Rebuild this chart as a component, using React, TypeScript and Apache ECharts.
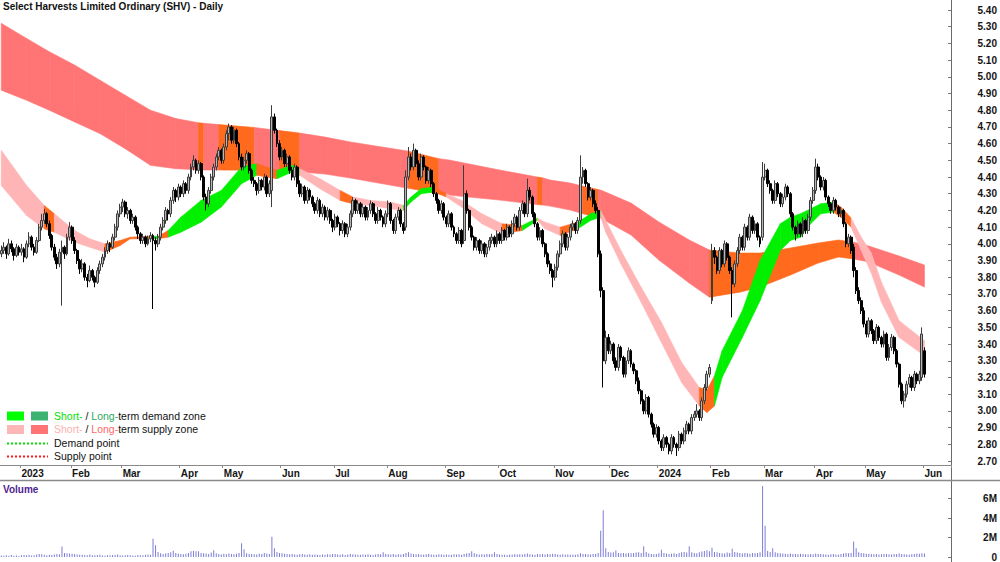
import { useEffect, useRef } from 'react';
import * as echarts from 'echarts';

const FONT = '"Liberation Sans", Arial, Helvetica, sans-serif';

// ---- categories (trading days) ----
const FIRST_DAY = '2022-12-19';
const LAST_DAY = '2024-06-03';
const HOLIDAYS = ['2022-12-26', '2022-12-27', '2023-01-02', '2023-01-26', '2023-04-07', '2023-04-10', '2023-04-25', '2023-06-12', '2023-12-25', '2023-12-26', '2024-01-01', '2024-01-26', '2024-03-29', '2024-04-01', '2024-04-25'];
const TRAILING_EMPTY_SLOTS = 10;
const MONTH_NAMES = ['Jan', 'Feb', 'Mar', 'Apr', 'May', 'Jun', 'Jul', 'Aug', 'Sep', 'Oct', 'Nov', 'Dec'];

// ---- daily prices, cents: [open, high, low, close] ----
const priceOHLC: number[][] = [
[394,399,392,396],[396,401,394,398],[398,399,391,394],[394,403,393,400],[400,402,395,397],[397,398,390,393],[393,400,392,398],[398,399,393,395],[395,400,393,397],[397,398,389,392],
[392,402,391,400],[400,407,398,404],[404,405,396,398],[398,400,393,395],[395,404,394,402],[402,412,401,410],[410,418,408,414],[414,421,412,418],[418,419,410,412],[412,414,403,405],
[405,406,396,398],[398,400,390,392],[392,394,385,388],[388,397,386,395],[395,402,363,398],[398,399,391,394],[394,406,393,404],[404,413,402,410],[410,411,400,402],[402,404,394,396],
[396,397,388,390],[390,391,382,385],[385,391,383,388],[388,389,378,380],[380,382,374,378],[378,387,377,384],[384,385,378,380],[380,381,374,377],[377,386,376,384],[384,390,382,388],
[388,394,386,392],[392,398,390,396],[396,402,394,400],[400,401,395,398],[398,406,397,404],[404,412,402,410],[410,420,408,418],[418,424,416,422],[422,427,419,425],[425,426,416,418],
[418,422,415,420],[420,421,412,414],[414,418,412,416],[416,417,408,410],[410,411,403,406],[406,407,400,402],[402,406,400,404],[404,405,398,400],[400,405,399,403],[403,407,401,405],
[405,406,361,402],[402,404,396,400],[400,406,398,404],[404,412,402,410],[410,416,408,414],[414,422,412,420],[420,421,414,418],[418,428,416,426],[426,434,424,432],[432,433,425,428],
[428,436,426,434],[434,435,428,430],[430,438,428,436],[436,437,430,432],[432,442,430,440],[440,448,438,446],[446,453,444,450],[450,451,442,444],[444,450,442,448],[448,449,438,440],
[440,441,426,428],[428,430,420,424],[424,434,422,432],[432,442,430,440],[440,448,438,446],[446,454,444,452],[452,458,450,456],[456,457,448,450],[450,460,448,458],[458,468,456,466],
[466,472,462,470],[470,471,460,462],[462,470,460,468],[468,469,458,460],[460,461,450,452],[452,454,444,446],[446,452,444,450],[450,456,448,454],[454,455,442,444],[444,445,436,438],
[438,440,434,436],[436,437,429,432],[432,440,430,438],[438,439,432,434],[434,442,432,440],[440,441,428,430],[430,438,428,436],[432,483,422,476],[476,478,466,468],[468,469,458,460],
[460,462,450,452],[452,458,450,456],[456,457,446,448],[448,454,446,452],[452,453,442,444],[444,446,438,440],[440,448,438,446],[446,447,434,436],[436,438,428,430],[430,436,428,434],
[434,435,424,426],[426,434,424,432],[432,433,426,428],[428,429,422,424],[424,425,418,420],[420,428,418,426],[426,427,416,418],[418,424,416,422],[422,423,414,416],[416,422,414,420],
[420,421,412,414],[414,415,407,410],[410,418,408,416],[416,417,410,412],[412,413,405,408],[408,414,406,412],[412,413,404,406],[406,412,404,410],[410,420,408,418],[418,428,416,426],
[426,427,418,420],[420,426,418,424],[424,425,416,418],[418,424,416,422],[422,423,414,416],[416,422,414,420],[420,426,418,424],[424,425,416,418],[418,419,412,414],[414,422,412,420],
[420,421,414,416],[416,417,410,412],[412,420,410,418],[418,426,416,424],[424,425,412,414],[414,415,406,408],[408,418,406,416],[416,422,414,420],[420,421,410,412],[412,413,406,408],
[410,444,408,440],[440,458,438,452],[452,454,444,446],[446,460,444,456],[456,457,446,448],[448,450,438,440],[440,454,438,452],[452,453,444,446],[446,447,436,438],[438,446,436,444],
[444,445,434,436],[436,437,428,430],[430,431,424,426],[426,427,418,420],[420,426,418,424],[424,425,414,416],[416,417,410,412],[412,420,410,418],[418,419,408,410],[410,411,404,406],
[406,407,400,402],[402,410,400,408],[408,409,398,400],[402,447,400,430],[430,432,418,420],[420,421,408,410],[410,411,402,404],[404,405,396,398],[398,404,396,402],[402,403,394,396],
[396,402,394,400],[400,401,392,394],[394,400,392,398],[398,404,396,402],[402,406,400,404],[404,405,398,400],[400,408,398,406],[406,407,400,402],[402,410,400,408],[408,409,402,404],
[404,412,402,410],[410,411,404,406],[406,414,404,412],[412,418,410,416],[416,417,408,410],[410,422,408,420],[420,426,418,424],[424,425,416,418],[418,439,416,432],[432,434,426,428],
[428,429,416,418],[418,419,410,412],[412,413,402,404],[404,410,402,408],[408,409,398,400],[400,401,392,394],[394,395,386,388],[388,390,382,384],[384,385,374,380],[380,388,378,386],
[386,396,384,394],[394,402,392,400],[400,408,398,406],[406,407,396,398],[398,406,396,404],[404,412,402,410],[410,414,408,412],[412,413,406,408],[408,416,406,414],[414,453,412,440],
[440,446,436,444],[444,445,434,436],[436,437,426,428],[428,434,426,432],[432,433,422,424],[424,426,418,420],[420,422,392,394],[394,396,368,372],[372,374,314,330],[330,348,328,344],
[344,346,334,336],[336,342,334,340],[340,341,328,330],[330,332,324,326],[326,340,324,338],[338,339,330,332],[332,333,320,322],[322,332,320,330],[330,338,328,336],[336,337,326,328],
[328,329,322,324],[324,325,316,318],[318,320,310,312],[312,313,304,306],[306,307,298,300],[300,310,298,308],[308,309,296,298],[298,299,290,292],[292,293,284,286],[286,292,284,290],
[290,291,280,282],[282,283,276,278],[278,286,276,284],[284,285,278,280],[280,281,274,276],[276,286,274,284],[284,285,278,280],[280,281,273,278],[278,288,276,286],[286,287,280,282],
[282,290,280,288],[288,294,286,292],[292,293,286,288],[288,298,286,296],[296,300,294,298],[298,304,296,300],[300,301,294,296],[296,308,294,306],[306,316,304,314],[314,324,312,322],
[322,328,320,326],[366,400,364,396],[396,398,388,392],[392,393,382,384],[384,398,382,396],[396,397,386,388],[388,402,386,400],[400,401,390,392],[392,393,382,384],[384,386,356,376],
[376,390,374,388],[388,398,386,396],[396,406,394,404],[404,405,396,398],[398,412,396,410],[410,411,402,404],[404,418,402,416],[416,417,406,408],[408,414,406,412],[412,413,402,404],
[404,405,398,400],[404,449,402,440],[440,448,438,444],[444,445,434,436],[436,438,430,432],[432,433,424,426],[426,438,424,436],[436,437,428,430],[430,431,422,424],[424,430,422,428],
[428,436,426,434],[434,435,428,430],[430,431,416,418],[418,419,408,410],[410,411,402,406],[406,414,404,412],[412,413,404,406],[406,416,404,414],[414,415,406,408],[408,418,406,416],
[416,428,414,426],[426,434,424,432],[432,451,430,446],[446,448,438,440],[440,441,432,434],[434,440,432,438],[438,439,426,428],[428,429,422,424],[424,425,418,420],[420,428,418,426],
[426,427,420,422],[422,423,416,418],[418,422,416,420],[420,421,410,412],[412,413,398,400],[400,406,398,404],[404,405,394,396],[398,400,380,384],[384,386,370,372],[372,374,364,366],
[366,368,358,360],[360,362,350,352],[352,354,344,346],[346,356,344,354],[354,355,346,348],[348,349,340,342],[342,352,340,350],[350,351,342,344],[344,345,338,340],[340,348,338,346],
[346,347,330,332],[332,340,330,338],[338,346,336,344],[344,345,334,336],[336,337,326,328],[328,329,314,316],[316,317,304,306],[306,312,302,310],[310,318,308,316],[316,322,314,320],
[320,321,312,314],[314,324,312,322],[322,323,316,318],[318,324,316,322],[320,350,318,346],[336,338,320,322]
];

// ---- daily volume, thousands of shares ----
const volumeK: number[] = [
150,120,180,140,200,130,160,110,170,210, 190,230,150,180,260,300,280,220,190,240,
200,260,310,280,1080,420,380,350,330,300, 260,240,220,200,190,260,180,170,210,230,
160,140,190,170,210,230,260,190,150,180, 200,170,160,140,210,180,190,230,250,220,
1870,1200,520,380,300,350,420,480,650,400, 360,320,290,330,420,600,640,580,600,420,
380,350,310,450,700,380,300,260,340,290, 360,300,280,330,420,1400,800,380,330,300,
280,260,330,300,420,360,300,2070,900,520, 420,380,340,300,280,320,260,240,280,300,
250,230,270,220,260,240,210,250,230,280, 260,300,320,250,230,270,210,250,300,280,
260,240,220,250,230,270,240,210,260,300, 280,500,320,280,260,300,240,270,250,320,
420,500,360,320,280,300,260,240,280,300, 260,240,230,270,250,220,260,240,230,280,
250,270,240,300,350,420,600,380,300,260, 280,250,300,270,320,500,300,260,240,230,
210,250,230,270,250,280,260,300,350,280, 260,240,300,280,320,260,300,280,330,300,
250,240,270,220,260,230,250,240,280,380, 320,300,280,260,300,320,420,2700,4800,900,
520,450,480,670,420,380,400,350,420,380, 400,450,500,420,1100,520,360,300,280,320,
380,740,420,360,300,340,380,300,420,480, 520,460,1100,480,420,380,500,560,620,700,
600,940,520,480,420,380,360,460,420,840, 520,450,400,360,420,380,340,400,380,420,
480,7300,3200,620,520,900,480,420,380,360, 340,300,360,320,300,280,340,300,280,260,
300,280,360,320,300,280,260,240,280,300, 260,240,300,360,420,380,400,1580,900,500,
420,380,340,300,320,280,300,260,280,320, 300,280,260,320,300,360,300,280,260,240,
280,300,350,340,380,360
];

// ---- long-term zone: knots (trading-day index, top, bottom, colour of following segment) ----
const longIdx = [0, 10, 19, 29, 39, 49, 59, 69, 78, 80, 86, 100, 108, 110, 118, 128, 138, 158, 161, 173, 177, 197, 212, 214, 217, 225, 230, 236, 237, 249, 260, 272, 280, 292, 300, 312, 323, 331, 337, 343, 355, 365];
const longTop = [5.32, 5.23, 5.15, 5.07, 4.98, 4.89, 4.80, 4.75, 4.725, 4.722, 4.714, 4.697, 4.681, 4.678, 4.663, 4.639, 4.610, 4.562, 4.555, 4.51, 4.502, 4.442, 4.40, 4.395, 4.382, 4.364, 4.345, 4.325, 4.322, 4.244, 4.131, 4.023, 3.963, 3.945, 3.945, 3.975, 4.005, 4.023, 4.01, 3.987, 3.927, 3.873];
const longBot = [4.92, 4.86, 4.80, 4.73, 4.66, 4.57, 4.47, 4.45, 4.443, 4.442, 4.442, 4.441, 4.430, 4.430, 4.430, 4.418, 4.394, 4.340, 4.333, 4.30, 4.292, 4.262, 4.235, 4.232, 4.226, 4.202, 4.18, 4.158, 4.154, 4.053, 3.903, 3.765, 3.681, 3.711, 3.741, 3.813, 3.885, 3.921, 3.91, 3.891, 3.813, 3.741];
const longCol = ['R','R','R','R','R','R','R','R','O','R','O','R','R','O','R','R','R','R','O','R','R','R','O','R','R','R','O','R','R','R','R','R','O','O','O','O','O','O','R','R','R','R'];

// ---- short-term zone knots ----
const shortIdx = [0, 10, 17, 21, 29, 35, 41, 47, 51, 59, 62, 66, 71, 79, 87, 95, 101, 109, 115, 118, 126, 134, 139, 146, 154, 159, 162, 166, 171, 176, 182, 190, 198, 206, 212, 215, 221, 228, 233, 237, 239, 245, 253, 261, 269, 276, 279, 282, 285, 293, 300, 308, 312, 316, 320, 324, 329, 332, 336, 340, 344, 348, 355, 365];
const shortTop = [4.56, 4.35, 4.23, 4.18, 4.08, 4.03, 4.00, 4.02, 4.04, 4.045, 4.045, 4.08, 4.16, 4.26, 4.32, 4.46, 4.48, 4.44, 4.47, 4.45, 4.39, 4.32, 4.28, 4.26, 4.25, 4.23, 4.28, 4.33, 4.34, 4.30, 4.26, 4.18, 4.12, 4.11, 4.155, 4.13, 4.10, 4.13, 4.18, 4.20, 4.14, 3.96, 3.74, 3.53, 3.29, 3.14, 3.125, 3.21, 3.36, 3.60, 3.90, 4.12, 4.16, 4.18, 4.21, 4.24, 4.25, 4.22, 4.155, 4.04, 3.945, 3.77, 3.54, 3.42];
const shortBot = [4.35, 4.17, 4.09, 4.07, 4.01, 3.98, 3.95, 3.99, 4.03, 4.03, 4.03, 4.04, 4.07, 4.13, 4.22, 4.36, 4.41, 4.39, 4.43, 4.41, 4.33, 4.26, 4.24, 4.23, 4.21, 4.20, 4.25, 4.30, 4.31, 4.28, 4.22, 4.12, 4.06, 4.08, 4.14, 4.09, 4.05, 4.09, 4.14, 4.16, 4.07, 3.88, 3.65, 3.41, 3.17, 3.03, 2.99, 3.03, 3.20, 3.44, 3.66, 3.96, 4.02, 4.04, 4.12, 4.18, 4.19, 4.16, 4.10, 3.96, 3.825, 3.65, 3.44, 3.33];
const shortCol = ['P','P','O','P','P','P','O','O','O','G','O','G','G','G','G','G','O','G','G','P','P','O','P','P','P','G','G','G','O','P','P','P','O','G','P','P','O','G','G','P','P','P','P','P','P','O','O','G','G','G','G','G','G','G','G','G','O','O','P','P','P','P','P','P'];

const ZONE_KEYS = ['R', 'O', 'P', 'G'];
const ZONE_FILL = ['#ff7474', '#ff6a1c', '#ffb5b5', '#00f000'];

const PRICE_MIN = 2.7;
const PRICE_MAX = 5.4;
const PRICE_STEP = 0.1;
const VOL_MAX = 7.5e6;
const VOL_STEP = 2e6;

function buildTradingDays(): string[] {
  const out: string[] = [];
  const hol = new Set(HOLIDAYS);
  const [y0, m0, d0] = FIRST_DAY.split('-').map(Number);
  const [y1, m1, d1] = LAST_DAY.split('-').map(Number);
  let t = Date.UTC(y0, m0 - 1, d0);
  const end = Date.UTC(y1, m1 - 1, d1);
  while (t <= end) {
    const d = new Date(t);
    const wd = d.getUTCDay();
    const iso = d.toISOString().slice(0, 10);
    if (wd !== 0 && wd !== 6 && !hol.has(iso)) out.push(iso);
    t += 86400000;
  }
  return out;
}

function bandSegments(idx: number[], top: number[], bot: number[], col: string[]) {
  const segs: number[][] = [];
  for (let k = 0; k < idx.length - 1; k++) {
    segs.push([idx[k], top[k], bot[k], idx[k + 1], top[k + 1], bot[k + 1], ZONE_KEYS.indexOf(col[k])]);
  }
  return segs;
}

function bandRenderer(params: any, api: any) {
  const a0 = api.value(0), t0 = api.value(1), b0 = api.value(2);
  const a1 = api.value(3), t1 = api.value(4), b1 = api.value(5);
  const fill = ZONE_FILL[api.value(6)];
  const pts = [api.coord([a0, t0]), api.coord([a1, t1]), api.coord([a1, b1]), api.coord([a0, b0])];
  return { type: 'polygon', shape: { points: pts }, style: { fill, stroke: fill, lineWidth: 0.6 } };
}

export default function App() {
  const ref = useRef<HTMLDivElement>(null);
  useEffect(() => {
    document.body.style.margin = '0';
    if (!ref.current) return;
    const chart = echarts.init(ref.current, undefined, { renderer: 'svg' });

    const days = buildTradingDays();
    const categories = days.slice();
    for (let i = 0; i < TRAILING_EMPTY_SLOTS; i++) categories.push('pad' + i);
    const monthStart = new Set<number>();
    for (let i = 1; i < days.length; i++) {
      if (days[i].slice(0, 7) !== days[i - 1].slice(0, 7)) monthStart.add(i);
    }
    const isMonthStart = (i: number) => monthStart.has(i);
    const labelOf = (v: string) => {
      if (v.startsWith('pad')) return '';
      const m = Number(v.slice(5, 7)) - 1;
      return m === 0 ? v.slice(0, 4) : MONTH_NAMES[m];
    };

    const candleData = priceOHLC.map(([o, h, l, c]) => [o / 100, c / 100, l / 100, h / 100]);
    const volData = volumeK.map((v) => v * 1000);

    const txt = { fontFamily: FONT, fontSize: 10, fontWeight: 'bold' as const, color: '#141414' };

    const option: any = {
      animation: false,
      backgroundColor: '#ffffff',
      grid: [
        { left: -1, right: 49, top: 10, bottom: 101 },
        { left: -1, right: 49, top: 484, bottom: 4 },
      ],
      xAxis: [
        {
          type: 'category', gridIndex: 0, data: categories, boundaryGap: true, offset: 4,
          axisLine: { show: true, lineStyle: { color: '#8a8a8a', width: 1 } },
          axisTick: { show: true, interval: (i: number) => isMonthStart(i), length: 3, lineStyle: { color: '#8a8a8a' } },
          axisLabel: { ...txt, interval: (i: number) => isMonthStart(i), formatter: labelOf, align: 'left', margin: 3 },
          splitLine: { show: false },
        },
        {
          type: 'category', gridIndex: 1, data: categories, boundaryGap: true,
          axisLine: { show: false }, axisTick: { show: false }, axisLabel: { show: false }, splitLine: { show: false },
        },
      ],
      yAxis: [
        {
          type: 'value', gridIndex: 0, position: 'right', min: PRICE_MIN, max: PRICE_MAX, interval: PRICE_STEP,
          axisLine: { show: false },
          axisTick: { show: true, length: 3, inside: true, lineStyle: { color: '#777' } },
          axisLabel: { ...txt, align: 'right', margin: 46, formatter: (v: number) => v.toFixed(2) },
          splitLine: { show: false },
        },
        {
          type: 'value', gridIndex: 1, position: 'right', min: 0, max: VOL_MAX, interval: VOL_STEP,
          axisLine: { show: false },
          axisTick: { show: true, length: 3, inside: true, lineStyle: { color: '#777' } },
          axisLabel: { ...txt, align: 'right', margin: 46, showMaxLabel: false, formatter: (v: number) => (v === 0 ? '0' : v / 1e6 + 'M') },
          splitLine: { show: false },
        },
      ],
      series: [
        {
          type: 'custom', name: 'long-term zone', xAxisIndex: 0, yAxisIndex: 0, z: 1, silent: true,
          renderItem: bandRenderer, encode: { x: [0, 3], y: [1, 2, 4, 5] },
          data: bandSegments(longIdx, longTop, longBot, longCol),
        },
        {
          type: 'custom', name: 'short-term zone', xAxisIndex: 0, yAxisIndex: 0, z: 2, silent: true,
          renderItem: bandRenderer, encode: { x: [0, 3], y: [1, 2, 4, 5] },
          data: bandSegments(shortIdx, shortTop, shortBot, shortCol),
        },
        {
          type: 'candlestick', name: 'SHV', xAxisIndex: 0, yAxisIndex: 0, z: 5, silent: true,
          barWidth: 2.4,
          itemStyle: { color: '#b6b6b6', color0: '#000000', borderColor: '#3c3c3c', borderColor0: '#000000', borderWidth: 1 },
          data: candleData,
        },
        {
          type: 'bar', name: 'Volume', xAxisIndex: 1, yAxisIndex: 1, silent: true,
          barWidth: 1, itemStyle: { color: '#7d7dd8' },
          data: volData,
        },
      ],
      graphic: [
        { type: 'text', left: 3, top: 1, style: { text: 'Select Harvests Limited Ordinary (SHV) - Daily', font: `bold 10px ${FONT}`, fill: '#111' } },
        { type: 'line', shape: { x1: 951.5, y1: 0, x2: 951.5, y2: 562 }, style: { stroke: '#6a6a6a', lineWidth: 1 } },
        { type: 'line', shape: { x1: 0, y1: 480.5, x2: 1000, y2: 480.5 }, style: { stroke: '#8a8a8a', lineWidth: 1.5 } },
        { type: 'text', left: 3, top: 484, style: { text: 'Volume', font: `bold 10px ${FONT}`, fill: '#4f2390' } },
        // legend
        { type: 'rect', shape: { x: 7, y: 411.5, width: 17, height: 9 }, style: { fill: '#00ff00' } },
        { type: 'rect', shape: { x: 31, y: 411.5, width: 17, height: 9 }, style: { fill: '#3cb371' } },
        { type: 'rect', shape: { x: 7, y: 425, width: 17, height: 9 }, style: { fill: '#ffb6b6' } },
        { type: 'rect', shape: { x: 31, y: 425, width: 17, height: 9 }, style: { fill: '#ff7474' } },
        { type: 'line', shape: { x1: 7, y1: 443.5, x2: 48, y2: 443.5 }, style: { stroke: '#00e000', lineWidth: 2, lineDash: [2, 2] } },
        { type: 'line', shape: { x1: 7, y1: 456.5, x2: 48, y2: 456.5 }, style: { stroke: '#ff1a1a', lineWidth: 2, lineDash: [2, 2] } },
        {
          type: 'text', left: 54, top: 410,
          style: {
            text: '{g|Short-} / {d|Long-}term demand zone', font: `10.5px ${FONT}`, fill: '#111',
            rich: { g: { fill: '#00e000', color: '#00e000', font: `10.5px ${FONT}` }, d: { fill: '#2eaa5e', color: '#2eaa5e', font: `10.5px ${FONT}` } },
          },
        },
        {
          type: 'text', left: 54, top: 423.5,
          style: {
            text: '{p|Short-} / {r|Long-}term supply zone', font: `10.5px ${FONT}`, fill: '#111',
            rich: { p: { fill: '#ffb0b0', color: '#ffb0b0', font: `10.5px ${FONT}` }, r: { fill: '#ff6868', color: '#ff6868', font: `10.5px ${FONT}` } },
          },
        },
        { type: 'text', left: 54, top: 437, style: { text: 'Demand point', font: `10.5px ${FONT}`, fill: '#111' } },
        { type: 'text', left: 54, top: 450, style: { text: 'Supply point', font: `10.5px ${FONT}`, fill: '#111' } },
      ],
    };
    chart.setOption(option);
    return () => chart.dispose();
  }, []);
  return <div ref={ref} style={{ width: 1000, height: 562 }} />;
}
